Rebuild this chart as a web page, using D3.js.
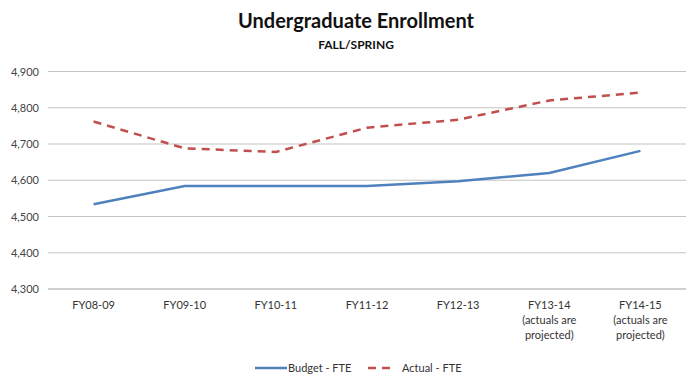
<!doctype html>
<html>
<head>
<meta charset="utf-8">
<style>
  body { margin: 0; background: #fff; }
  svg { display: block; font-family: Lato, "Open Sans", sans-serif; }
</style>
<script src="https://d3js.org/d3.v7.min.js"></script>
</head>
<body>
<script>
  // data
  var years = ["FY08-09","FY09-10","FY10-11","FY11-12","FY12-13","FY13-14","FY14-15"];
  var yearLabels = [["FY08-09"],["FY09-10"],["FY10-11"],["FY11-12"],["FY12-13"],
                    ["FY13-14","(actuals are","projected)"],["FY14-15","(actuals are","projected)"]];
  var budget = [4534, 4584, 4584, 4584, 4597, 4620, 4681];
  var actual = [4762, 4688, 4678, 4745, 4767, 4820, 4842];
  var yTicks = [4300, 4400, 4500, 4600, 4700, 4800, 4900];

  var width = 688, height = 376;
  var svg = d3.select("body").append("svg").attr("width", width).attr("height", height);

  var x = d3.scalePoint().domain(years).range([48, 686]).padding(0.5);
  var y = d3.scaleLinear().domain([4300, 4900]).range([289, 71.5]);

  // title
  svg.append("text").attr("x", 356).attr("y", 28).attr("text-anchor", "middle")
    .attr("font-size", 20).attr("font-weight", "bold").attr("fill", "#111")
    .text("Undergraduate Enrollment");
  svg.append("text").attr("x", 356).attr("y", 49).attr("text-anchor", "middle")
    .attr("font-size", 12).attr("font-weight", "bold").attr("fill", "#111")
    .text("FALL/SPRING");

  // gridlines
  svg.append("g").selectAll("line").data(yTicks).enter().append("line")
    .attr("x1", 48).attr("x2", 686)
    .attr("y1", function(d){ return y(d); }).attr("y2", function(d){ return y(d); })
    .attr("stroke", function(d){ return d == 4300 ? "#a0a0a0" : "#c4c4c4"; })
    .attr("stroke-width", 1.2);

  // y axis labels
  var yAxis = svg.append("g").attr("transform", "translate(48,0)")
    .call(d3.axisLeft(y).tickValues(yTicks).tickSize(0).tickPadding(9).tickFormat(d3.format(",")));
  yAxis.select(".domain").remove();
  yAxis.selectAll("text").attr("font-size", 11).attr("fill", "#444").attr("font-family", "Lato, sans-serif");

  // x axis labels
  var xg = svg.append("g");
  years.forEach(function(yr, i){
    var t = xg.append("text").attr("x", x(yr)).attr("y", 309).attr("text-anchor", "middle")
      .attr("font-size", 11).attr("fill", "#333");
    yearLabels[i].forEach(function(s, j){
      t.append("tspan").attr("x", x(yr)).attr("dy", j == 0 ? 0 : 15).text(s);
    });
  });

  var line = d3.line()
    .x(function(d, i){ return x(years[i]); })
    .y(function(d){ return y(d); });

  svg.append("path").attr("d", line(budget)).attr("fill", "none")
    .attr("stroke", "#4F81BD").attr("stroke-width", 2.5);
  svg.append("path").attr("d", line(actual)).attr("fill", "none")
    .attr("stroke", "#C0504D").attr("stroke-width", 2.5).attr("stroke-dasharray", "8,6");

  // legend
  var lg = svg.append("g").attr("transform", "translate(0,368)");
  lg.append("line").attr("x1", 255).attr("x2", 287).attr("y1", 0).attr("y2", 0)
    .attr("stroke", "#4F81BD").attr("stroke-width", 2.5);
  lg.append("text").attr("x", 288).attr("y", 4).attr("font-size", 11).attr("fill", "#333").text("Budget - FTE");
  lg.append("line").attr("x1", 368).attr("x2", 393).attr("y1", 0).attr("y2", 0)
    .attr("stroke", "#C0504D").attr("stroke-width", 2.5).attr("stroke-dasharray", "8,6");
  lg.append("text").attr("x", 402).attr("y", 4).attr("font-size", 11).attr("fill", "#333").text("Actual - FTE");
</script>
</body>
</html>
